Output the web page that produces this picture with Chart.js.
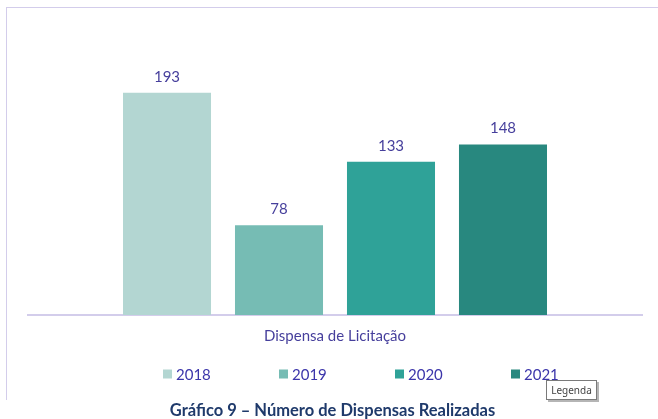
<!DOCTYPE html>
<html lang="pt-BR">
<head>
<meta charset="utf-8">
<script src="https://cdn.jsdelivr.net/npm/chart.js@4/dist/chart.umd.min.js"></script>
<style>
  html, body { margin: 0; padding: 0; background: #fff; overflow: hidden; }
  #wrap { position: relative; width: 658px; height: 419px; }
  #frame {
    position: absolute; left: 6px; top: 7px; width: 700px; height: 393px;
    border-top: 1px solid #d3cdeb; border-left: 1px solid #d3cdeb;
    box-sizing: border-box;
  }
  #chartBox { position: absolute; left: 0; top: 0; width: 658px; height: 419px; }
  #caption {
    position: absolute; left: 0; width: 665px; top: 400px;
    text-align: center; font-family: Lato, sans-serif; font-weight: bold;
    font-size: 16.5px; color: #1f3a6b; white-space: nowrap;
  }
  #hint {
    position: absolute; left: 546px; top: 380px; width: 51px; height: 20px;
    box-sizing: border-box; border: 1px solid #7a7a7a; background: #fff;
    box-shadow: 2px 2px 0 #b5b5b5;
    font-family: "Noto Sans", sans-serif; font-size: 10px; color: #444;
    line-height: 18px; text-align: center;
  }
</style>
</head>
<body>
<div id="wrap">
  <div id="frame"></div>
  <div id="chartBox"><canvas id="c"></canvas></div>
  <div id="caption">Gráfico 9 – Número de Dispensas Realizadas</div>
  <div id="hint">Legenda</div>
</div>
<script>
// Número de dispensas de licitação por ano
const categories = ["Dispensa de Licitação"];
const years = ["2018", "2019", "2020", "2021"];
const counts = [193, 78, 133, 148];
const barColors = ["#b3d6d2", "#76bcb4", "#2fa298", "#28887f"];

const labelColor = "#463f9c";
const legendColor = "#3b35aa";
const textFont = "15px Lato, sans-serif";

// value printed above each bar
const valueLabels = {
  id: "valueLabels",
  afterDatasetsDraw(chart) {
    const ctx = chart.ctx;
    ctx.save();
    ctx.font = textFont;
    ctx.fillStyle = labelColor;
    ctx.textAlign = "center";
    ctx.textBaseline = "alphabetic";
    chart.data.datasets.forEach((ds, i) => {
      chart.getDatasetMeta(i).data.forEach((bar, j) => {
        ctx.fillText(String(ds.data[j]), bar.x, bar.y - 11);
      });
    });
    ctx.restore();
  }
};

// legend row under the category label
const legendRow = {
  id: "legendRow",
  afterDraw(chart) {
    const ctx = chart.ctx;
    const startX = 163, step = 116, y = 374, box = 9;
    ctx.save();
    ctx.font = textFont;
    ctx.textBaseline = "middle";
    ctx.textAlign = "left";
    chart.data.datasets.forEach((ds, i) => {
      const x = startX + i * step;
      ctx.fillStyle = ds.backgroundColor;
      ctx.fillRect(x, y - box / 2, box, box);
      ctx.fillStyle = legendColor;
      ctx.fillText(ds.label, x + 13, y + 1);
    });
    ctx.restore();
  }
};

new Chart(document.getElementById("c"), {
  type: "bar",
  data: {
    labels: categories,
    datasets: years.map((y, i) => ({
      label: y,
      data: [counts[i]],
      backgroundColor: barColors[i],
      borderWidth: 0,
      categoryPercentage: 0.7296,
      barPercentage: 0.786
    }))
  },
  options: {
    responsive: true,
    maintainAspectRatio: false,
    animation: false,
    layout: { padding: { left: 28, right: 16, top: 50, bottom: 62 } },
    plugins: {
      legend: { display: false },
      tooltip: { enabled: false },
      title: { display: false }
    },
    scales: {
      x: {
        grid: { display: false, drawTicks: false },
        border: { display: true, color: "#d3cdeb", width: 2 },
        ticks: {
          color: labelColor,
          font: { family: "Lato, sans-serif", size: 15 },
          padding: 12
        }
      },
      y: {
        display: false,
        min: 0,
        max: 230
      }
    }
  },
  plugins: [valueLabels, legendRow]
});
</script>
</body>
</html>
